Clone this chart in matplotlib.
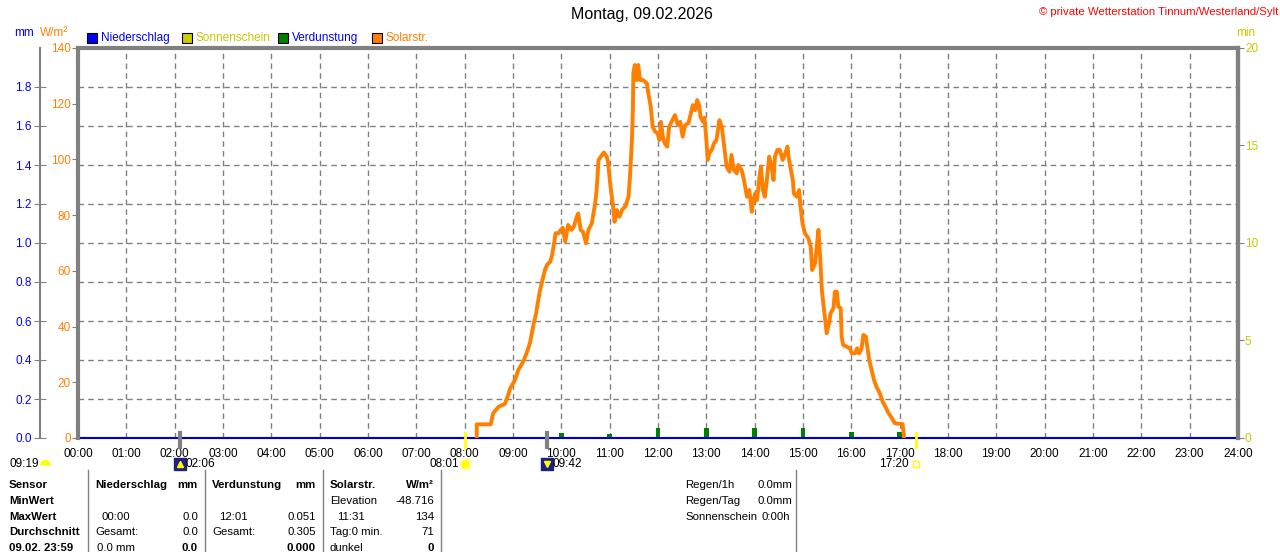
import numpy as np
import matplotlib
matplotlib.use("Agg")
import matplotlib.pyplot as plt
from matplotlib.patches import Rectangle
from matplotlib.lines import Line2D
from matplotlib.transforms import blended_transform_factory, offset_copy

plt.rcParams['font.family'] = ['Liberation Sans', 'DejaVu Sans']

# solar radiation (hour of day, W/m2)
solar_h = [8.25, 8.25, 8.54, 8.59, 8.70, 8.83, 8.90, 8.94, 9.04, 9.11, 9.21, 9.28, 9.35, 9.39,
           9.43, 9.48, 9.51, 9.56, 9.61, 9.66, 9.71, 9.77, 9.81, 9.85, 9.88, 9.94, 9.99, 10.03,
           10.08, 10.14, 10.21, 10.26, 10.32, 10.35, 10.40, 10.45, 10.51, 10.56, 10.63, 10.70,
           10.73, 10.77, 10.84, 10.88, 10.94, 10.97, 11.01, 11.08, 11.10, 11.15, 11.20, 11.26,
           11.32, 11.39, 11.42, 11.46, 11.48, 11.49, 11.52, 11.56, 11.59, 11.63, 11.69, 11.77,
           11.80, 11.85, 11.89, 11.94, 11.99, 12.03, 12.06, 12.10, 12.14, 12.19, 12.23, 12.28,
           12.35, 12.41, 12.46, 12.51, 12.56, 12.63, 12.68, 12.72, 12.77, 12.81, 12.85, 12.88,
           12.93, 12.96, 12.99, 13.03, 13.06, 13.11, 13.16, 13.21, 13.27, 13.32, 13.37, 13.42,
           13.48, 13.52, 13.57, 13.63, 13.66, 13.73, 13.78, 13.84, 13.89, 13.94, 13.97, 14.01,
           14.05, 14.10, 14.13, 14.17, 14.21, 14.26, 14.30, 14.35, 14.39, 14.42, 14.47, 14.52,
           14.58, 14.63, 14.68, 14.70, 14.75, 14.79, 14.81, 14.87, 14.92, 14.95, 14.99, 15.04,
           15.11, 15.16, 15.19, 15.25, 15.30, 15.32, 15.35, 15.39, 15.42, 15.46, 15.49, 15.54,
           15.57, 15.63, 15.66, 15.70, 15.73, 15.78, 15.80, 15.83, 15.90, 15.97, 16.01, 16.08,
           16.12, 16.16, 16.21, 16.25, 16.30, 16.34, 16.37, 16.42, 16.47, 16.52, 16.59, 16.65,
           16.72, 16.77, 16.84, 16.90, 17.06, 17.09, 17.09]
solar_w = [0, 4.9, 4.9, 8.9, 11.2, 12.2, 15.4, 17.8, 20.8, 24.4, 27.4, 30.4, 34.0, 37.6,
           41.2, 44.8, 48.3, 53.1, 56.7, 60.3, 62.3, 63.3, 65.7, 69.9, 73.5, 73.5, 74.7, 75.5,
           70.5, 76.5, 74.7, 76.0, 79.4, 80.6, 74.7, 74.0, 69.9, 74.7, 77.0, 84.2,
           89.0, 99.8, 101.6, 102.5, 101.0, 98.6, 91.4, 81.8, 77.6, 81.8, 79.4, 82.0,
           83.0, 86.6, 93.8, 107.0, 117.7, 130.9, 133.9, 128.5, 133.9, 128.5, 128.5, 127.3,
           123.7, 118.9, 111.7, 110.0, 109.4, 107.0, 113.5, 108.2, 105.8, 104.6, 111.7, 113.5,
           115.9, 112.3, 113.5, 108.2, 112.3, 113.0, 116.5, 119.5, 117.7, 121.3, 119.5, 115.3,
           113.5, 115.0, 109.4, 99.8, 102.2, 103.4, 105.8, 107.0, 114.1, 111.7, 104.6, 97.4,
           95.6, 101.6, 96.2, 95.0, 98.0, 96.2, 92.6, 86.6, 89.0, 81.2, 85.0, 87.8,
           85.4, 93.8, 97.4, 89.0, 86.6, 93.8, 101.0, 97.4, 92.6, 101.0, 103.4, 103.4,
           99.8, 102.0, 104.6, 101.0, 96.2, 92.6, 87.8, 86.6, 89.0, 83.0, 77.0, 73.5,
           71.7, 68.7, 60.3, 62.7, 71.1, 74.7, 66.3, 53.1, 48.3, 42.4, 37.6, 41.2,
           44.8, 46.6, 52.5, 52.5, 47.2, 46.6, 36.4, 33.4, 32.8, 32.2, 30.4, 30.4,
           32.2, 30.4, 32.0, 37.0, 36.4, 31.6, 28.0, 24.4, 20.8, 18.4, 16.0, 13.0,
           10.7, 8.9, 7.1, 5.3, 5.0, 0.5, 0]

# evaporation per hour (mm)
verd_h = [10, 11, 12, 13, 14, 15, 16, 17]
verd_mm = [0.025, 0.02, 0.051, 0.05, 0.05, 0.05, 0.03, 0.029]

hours = list(range(25))
hour_labels = ["%02d:00" % h for h in hours]
mm_ticks = [0.0, 0.2, 0.4, 0.6, 0.8, 1.0, 1.2, 1.4, 1.6, 1.8]
w_ticks = [0, 20, 40, 60, 80, 100, 120, 140]
min_ticks = [0, 5, 10, 15, 20]

sunrise = 8 + 1/60.
sunset = 17 + 20/60.
moonrise = 2 + 6/60.
moonset = 9 + 42/60.

W, H = 1280, 552
def fx(x):
    return x / float(W)
def fy(y):
    return 1 - y / float(H)

GRAY = '#808080'
BLUE = '#0000ff'
ORANGE = '#ff8000'
YEL = '#c8c800'
FS = 8.5
TFS = 8.2

fig = plt.figure(figsize=(12.8, 5.52), dpi=100)
ax = fig.add_axes([fx(78), fy(438), 1160/W, 390/H])

# mm axis (outer left)
ax.set_xlim(0, 24)
ax.set_ylim(0, 2.0)
ax.set_xticks(hours)
ax.set_xticklabels(hour_labels)
ax.set_yticks(mm_ticks)
ax.set_yticklabels(["%.1f" % v for v in mm_ticks])
ax.spines['left'].set_position(('axes', -38/1160.))
ax.spines['left'].set_color(GRAY)
ax.spines['left'].set_linewidth(1.5)
for s in ['top', 'right']:
    ax.spines[s].set_color(GRAY)
    ax.spines[s].set_linewidth(3)
ax.spines['bottom'].set_color(GRAY)
ax.spines['bottom'].set_linewidth(1.5)
ax.grid(True, color=GRAY, linestyle=(0, (4, 3)), linewidth=1)

ax.bar(verd_h, verd_mm, width=0.09, color='#008000', zorder=2)
ax.plot([0, 24], [0, 0], color='#0000c8', lw=1.5, zorder=4, clip_on=False)

# W/m2 axis
ax_w = ax.twinx()
ax_w.yaxis.tick_left()
ax_w.set_ylim(0, 140)
ax_w.set_yticks(w_ticks)
ax_w.set_yticklabels([str(v) for v in w_ticks])
for s in ['right', 'top', 'bottom']:
    ax_w.spines[s].set_visible(False)
ax_w.spines['left'].set_color(GRAY)
ax_w.spines['left'].set_linewidth(3)
ax_w.plot(solar_h, solar_w, color=ORANGE, lw=2.8, zorder=3)

# min axis (right)
ax_m = ax.twinx()
ax_m.set_ylim(0, 20)
ax_m.set_yticks(min_ticks)
ax_m.set_yticklabels([str(v) for v in min_ticks])
for s in ['left', 'top', 'bottom']:
    ax_m.spines[s].set_visible(False)
ax_m.spines['right'].set_color(GRAY)
ax_m.spines['right'].set_linewidth(3)

# tick styles after all twins exist
ax.tick_params(axis='y', direction='inout', length=8, color=GRAY, pad=2,
               labelsize=FS, labelcolor=BLUE)
ax.tick_params(axis='x', length=0, pad=7, labelsize=FS)
ax_w.tick_params(axis='y', length=4, color=GRAY, pad=1, labelsize=FS, labelcolor=ORANGE)
ax_m.tick_params(axis='y', length=4, color=GRAY, pad=1, labelsize=FS, labelcolor=YEL)

# sun / moon events below the axis
tr = blended_transform_factory(ax.transData, ax.transAxes)
for t, c, lw in [(sunrise, '#ffff00', 2), (sunset, '#ffff00', 2), (moonrise, GRAY, 3), (moonset, GRAY, 3)]:
    ax.plot([t, t], [0.013, -0.023], color=c, lw=lw, transform=tr, clip_on=False, zorder=5)
row = -0.066
ax.plot([sunrise], [row], 'o', ms=7, color='#ffff00', mec='#ffff80', transform=tr, clip_on=False)
ax.plot([sunset], [row], 's', ms=5, mfc='none', mec='#ffff00', mew=1, transform=tr, clip_on=False)
ax.plot([moonrise], [row], 's', ms=8, color='#202080', transform=tr, clip_on=False)
ax.plot([moonrise], [row], '^', ms=4, color='#ffff00', transform=tr, clip_on=False)
ax.plot([moonset], [row], 's', ms=8, color='#202080', transform=tr, clip_on=False)
ax.plot([moonset], [row], 'v', ms=4, color='#ffff00', transform=tr, clip_on=False)
ax.text(sunrise, row, "08:01", fontsize=FS, ha='right', va='center',
        transform=offset_copy(tr, fig=fig, x=-6, units='dots'))
ax.text(sunset, row, "17:20", fontsize=FS, ha='right', va='center',
        transform=offset_copy(tr, fig=fig, x=-7, units='dots'))
ax.text(moonrise, row, "02:06", fontsize=FS, ha='left', va='center',
        transform=offset_copy(tr, fig=fig, x=6, units='dots'))
ax.text(moonset, row, "09:42", fontsize=FS, ha='left', va='center',
        transform=offset_copy(tr, fig=fig, x=6, units='dots'))
fig.text(fx(10), fy(464), "09:19", fontsize=FS, va='center')
fig.add_artist(Line2D([fx(45)], [fy(465)], marker='o', ms=8, color='#ffff00',
                      fillstyle='top', markerfacecoloralt='none', mew=0))

# header
fig.text(fx(642), fy(15), "Montag, 09.02.2026", fontsize=11.5, ha='center', va='center')
fig.text(fx(1278), fy(12), "\u00a9 private Wetterstation Tinnum/Westerland/Sylt", fontsize=8.2,
         ha='right', va='center', color='#ff0000')
fig.text(fx(14), fy(33), "mm", fontsize=FS, color=BLUE, va='center')
fig.text(fx(40), fy(33), "W/m\u00b2", fontsize=FS, color=ORANGE, va='center')
fig.text(fx(1236), fy(33), "min", fontsize=FS, color=YEL, va='center')

legend = [(87, '#0000ff', "Niederschlag", BLUE),
          (182, '#cccc00', "Sonnenschein", YEL),
          (278, '#008000', "Verdunstung", BLUE),
          (372, ORANGE, "Solarstr.", ORANGE)]
for x0, fc, lab, tc in legend:
    fig.patches.append(Rectangle((fx(x0), fy(43)), 10/W, 10/H, transform=fig.transFigure,
                                 facecolor=fc, edgecolor='black', lw=0.8, figure=fig))
    fig.text(fx(x0 + 14), fy(38), lab, fontsize=FS, color=tc, va='center')

# table
for xs in [88, 205, 323, 441, 796]:
    fig.add_artist(Line2D([fx(xs), fx(xs)], [fy(470), fy(552)], color=GRAY, lw=1))

rows_y = [485, 501, 517, 532, 548]
for lab, y in zip(["Sensor", "MinWert", "MaxWert", "Durchschnitt", "09.02. 23:59"], rows_y):
    fig.text(fx(9), fy(y), lab, fontsize=TFS, weight='bold', va='center')

cells = [
    (95, 0, "Niederschlag", 'left', True), (198, 0, "mm", 'right', True),
    (101, 2, "00:00", 'left', False), (198, 2, "0.0", 'right', False),
    (95, 3, "Gesamt:", 'left', False), (198, 3, "0.0", 'right', False),
    (97, 4, "0.0 mm", 'left', False), (198, 4, "0.0", 'right', True),
    (212, 0, "Verdunstung", 'left', True), (316, 0, "mm", 'right', True),
    (219, 2, "12:01", 'left', False), (316, 2, "0.051", 'right', False),
    (212, 3, "Gesamt:", 'left', False), (316, 3, "0.305", 'right', False),
    (316, 4, "0.000", 'right', True),
    (330, 0, "Solarstr.", 'left', True), (434, 0, "W/m\u00b2", 'right', True),
    (330, 1, "Elevation", 'left', False), (434, 1, "-48.716", 'right', False),
    (337, 2, "11:31", 'left', False), (434, 2, "134", 'right', False),
    (330, 3, "Tag:0 min.", 'left', False), (434, 3, "71", 'right', False),
    (330, 4, "dunkel", 'left', False), (434, 4, "0", 'right', True),
    (685, 0, "Regen/1h", 'left', False), (758, 0, "0.0mm", 'left', False),
    (685, 1, "Regen/Tag", 'left', False), (757, 1, "0.0mm", 'left', False),
    (685, 2, "Sonnenschein", 'left', False), (762, 2, "0:00h", 'left', False),
]
for x, r, txt, ha, bold in cells:
    fig.text(fx(x), fy(rows_y[r]), txt, fontsize=TFS, ha=ha, va='center',
             weight='bold' if bold else 'normal')

fig.savefig("out.png", dpi=100)
